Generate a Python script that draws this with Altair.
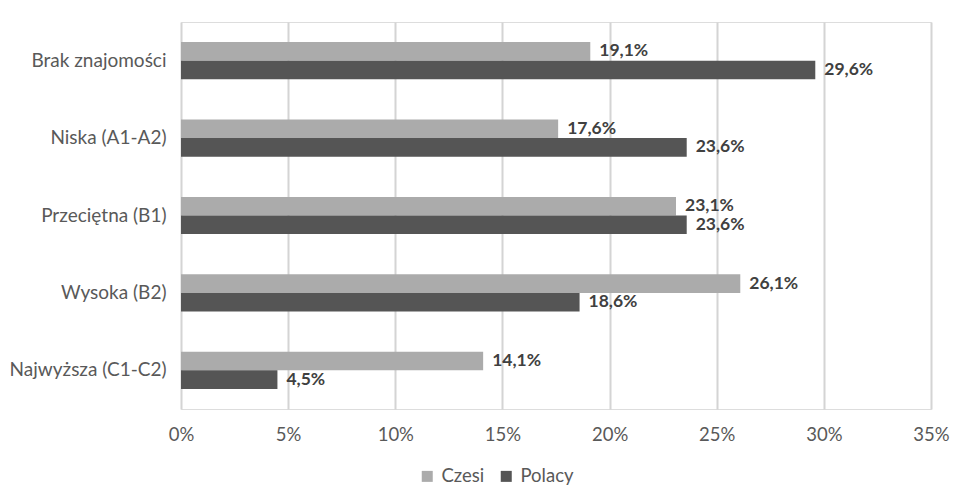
import altair as alt
import pandas as pd

categories = ["Brak znajomości", "Niska (A1-A2)", "Przeciętna (B1)", "Wysoka (B2)", "Najwyższa (C1-C2)"]
series = ["Czesi", "Polacy"]
czesi = [19.1, 17.6, 23.1, 26.1, 14.1]
polacy = [29.6, 23.6, 23.6, 18.6, 4.5]
x_ticks = [0, 5, 10, 15, 20, 25, 30, 35]

rows = []
for cat, c, p in zip(categories, czesi, polacy):
    for s, v in zip(series, (c, p)):
        rows.append({"kat": cat, "grupa": s, "wartosc": v / 100,
                     "etykieta": f"{v:.1f}".replace(".", ",") + "%"})
df = pd.DataFrame(rows)

font = "Lato"
txt = "#595959"

y = alt.Y("kat:N", sort=categories, title=None,
          scale=alt.Scale(paddingInner=0.52, paddingOuter=0.26),
          axis=alt.Axis(domain=False, ticks=False, labelFontSize=19, labelColor=txt,
                        labelFont=font, labelPadding=15, grid=False))
y_off = alt.YOffset("grupa:N", sort=series, scale=alt.Scale(paddingInner=0, paddingOuter=0))
x = alt.X("wartosc:Q", title=None,
          scale=alt.Scale(domain=[0, 0.35], nice=False),
          axis=alt.Axis(values=[t / 100 for t in x_ticks], format=".0%", domain=False, ticks=False,
                        labelFontSize=18.5, labelColor=txt, labelFont=font, labelPadding=16,
                        labelFlush=False, gridColor="#d4d4d4", gridWidth=2))

bars = alt.Chart(df).mark_bar().encode(
    x=x, y=y, yOffset=y_off,
    color=alt.Color("grupa:N", sort=series,
                    scale=alt.Scale(domain=series, range=["#ababab", "#555555"]),
                    legend=alt.Legend(title=None, orient="none", direction="horizontal",
                                      legendX=237, legendY=445, symbolType="square",
                                      symbolSize=121, symbolStrokeWidth=0, labelFontSize=18.5,
                                      labelColor=txt, labelFont=font, columnPadding=12,
                                      labelOffset=5)),
)

labels = alt.Chart(df).mark_text(align="left", baseline="middle", dx=9, fontSize=17.5,
                                 fontWeight="bold", color="#404040", font=font).encode(
    x="wartosc:Q", y=alt.Y("kat:N", sort=categories), yOffset=y_off, text="etykieta:N",
)

chart = (bars + labels).properties(
    width=750, height=387,
    autosize=alt.AutoSizeParams(type="none"),
    padding={"left": 181, "top": 22, "right": 24, "bottom": 79},
).configure_view(stroke=None).configure(background="white")

chart.save("out.html", embed_options={"renderer": "svg", "actions": False})
